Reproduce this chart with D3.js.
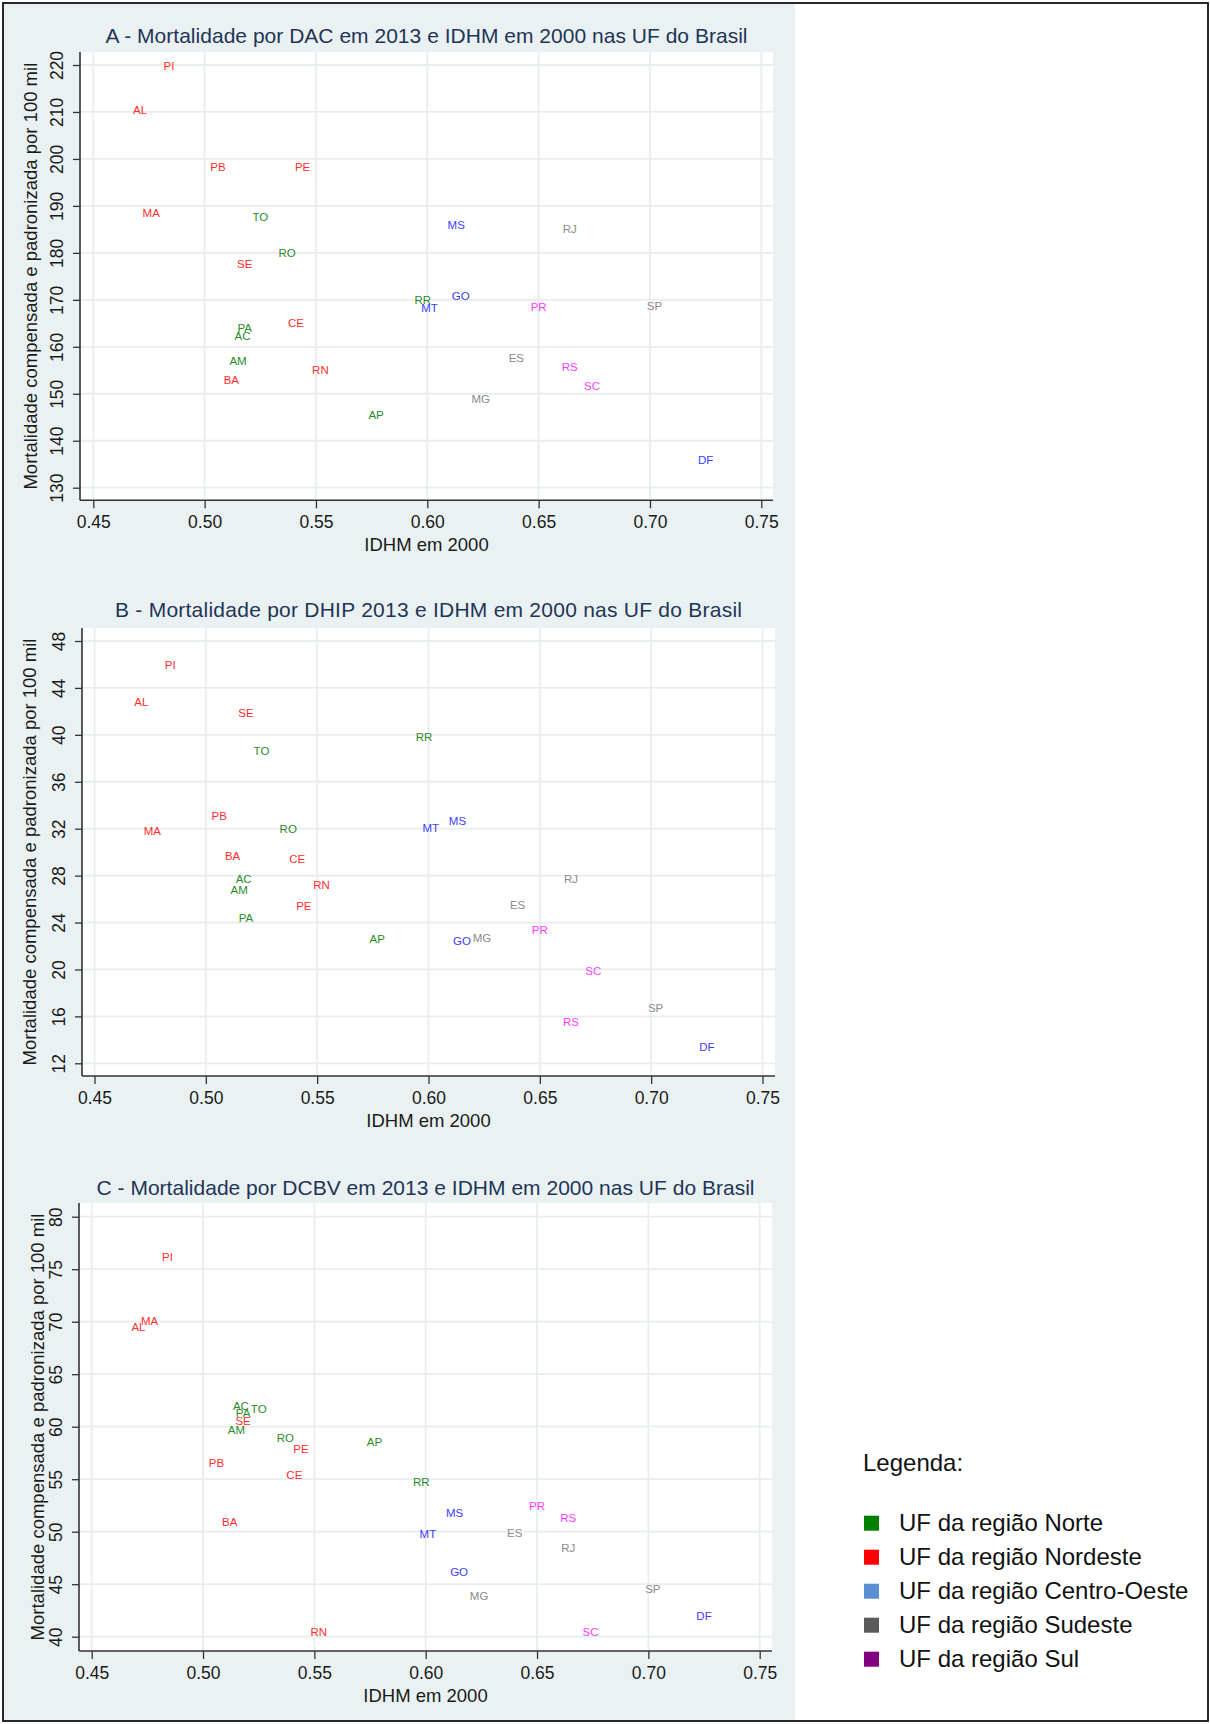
<!DOCTYPE html>
<html>
<head>
<meta charset="utf-8">
<script src="https://cdn.jsdelivr.net/npm/d3@7"></script>
<style>
  body { margin: 0; background: #fff; }
  text { font-family: "Liberation Sans", Arial, Helvetica, sans-serif; }
</style>
</head>
<body>
<div id="container"></div>
<script>
// UF do Brasil, com região (índice em regioes) e IDHM 2000
const uf       = ["AC","AL","AM","AP","BA","CE","DF","ES","GO","MA","MG","MS","MT","PA","PB","PE","PI","PR","RJ","RN","RO","RR","RS","SC","SE","SP","TO"];
const regiao   = [0, 1, 0, 0, 1, 1, 2, 3, 2, 1, 3, 2, 2, 0, 1, 1, 1, 4, 3, 1, 0, 0, 4, 4, 1, 3, 0];
const idhm2000 = [0.517,0.471,0.515,0.577,0.512,0.541,0.725,0.640,0.615,0.476,0.624,0.613,0.601,0.518,0.506,0.544,0.484,0.650,0.664,0.552,0.537,0.598,0.664,0.674,0.518,0.702,0.525];

// mortalidade compensada e padronizada por 100 mil (2013)
const dac2013  = [162.3,210.5,156.9,145.5,153.0,165.2,135.9,157.6,170.9,188.5,148.9,186.0,168.3,164.0,198.4,198.3,219.8,168.4,185.2,155.0,180.0,170.1,155.7,151.6,177.7,168.7,187.7];
const dhip2013 = [27.7,42.8,26.8,22.6,29.7,29.4,13.4,25.5,22.4,31.8,22.7,32.7,32.1,24.4,33.1,25.4,46.0,23.4,27.7,27.2,32.0,39.85,15.5,19.9,41.85,16.75,38.6];
const dcbv2013 = [62.0,69.5,59.7,58.55,50.9,55.4,42.0,49.9,46.2,70.1,43.9,51.8,49.8,61.3,56.6,57.9,76.2,52.5,48.5,40.5,58.9,54.7,51.3,40.5,60.6,44.6,61.7];

const regioes = ["Norte", "Nordeste", "Centro-Oeste", "Sudeste", "Sul"];
const xTicks    = [0.45, 0.50, 0.55, 0.60, 0.65, 0.70, 0.75];
const dacTicks  = [130, 140, 150, 160, 170, 180, 190, 200, 210, 220];
const dhipTicks = [12, 16, 20, 24, 28, 32, 36, 40, 44, 48];
const dcbvTicks = [40, 45, 50, 55, 60, 65, 70, 75, 80];
const titulos = [
  "A - Mortalidade por DAC em 2013 e IDHM em 2000 nas UF do Brasil",
  "B - Mortalidade por DHIP 2013 e IDHM em 2000 nas UF do Brasil",
  "C - Mortalidade por DCBV em 2013 e IDHM em 2000 nas UF do Brasil"
];

document.addEventListener("DOMContentLoaded", () => {

    const w = 1210; // canvas width
    const h = 1724; // canvas height

    const corTexto   = ["#2a8a2a", "#ff2e2e", "#3c3cff", "#8a8a8a", "#ff3cff"];
    const corLegenda = ["#008000", "#ff0000", "#5b8fd4", "#5a5a5a", "#800080"];

    const svg = d3.select("#container").append("svg").attr("width", w).attr("height", h);

    // fundo cinza dos gráficos e moldura
    svg.append("rect").attr("x", 4).attr("y", 4).attr("width", 791).attr("height", 1716).attr("fill", "#eaf1f2");
    svg.append("rect").attr("x", 3).attr("y", 3).attr("width", 1205).attr("height", 1718)
        .attr("fill", "none").attr("stroke", "#111").attr("stroke-width", 1.8);

    const paineis = [
        { valores: dac2013,  ticks: dacTicks,  titulo: titulos[0], tituloW: 642, left: 80, right: 773, top: 52,   bottom: 500.3, x0: 93.3, x1: 761.3, yTop: 65,     yBot: 487.7,  tituloY: 43,   yTituloX: 36.5 },
        { valores: dhip2013, ticks: dhipTicks, titulo: titulos[1], tituloW: 627, left: 82, right: 775, top: 628,  bottom: 1076,  x0: 94.5, x1: 762.5, yTop: 641,    yBot: 1063.3, tituloY: 617,  yTituloX: 36 },
        { valores: dcbv2013, ticks: dcbvTicks, titulo: titulos[2], tituloW: 658, left: 79, right: 772, top: 1203, bottom: 1651,  x0: 91.7, x1: 759.7, yTop: 1216.7, yBot: 1636.7, tituloY: 1195, yTituloX: 44 }
    ];

    paineis.forEach((p) => {
        const xScale = d3.scaleLinear().domain([0.45, 0.75]).range([p.x0, p.x1]);
        const yScale = d3.scaleLinear().domain([p.ticks[0], p.ticks[p.ticks.length - 1]]).range([p.yBot, p.yTop]);
        const g = svg.append("g");

        // área do gráfico
        g.append("rect").attr("x", p.left).attr("y", p.top).attr("width", p.right - p.left).attr("height", p.bottom - p.top).attr("fill", "#fff");

        // grade
        g.selectAll(".gx").data(xTicks).enter().append("line")
            .attr("x1", (d) => xScale(d)).attr("x2", (d) => xScale(d)).attr("y1", p.top).attr("y2", p.bottom)
            .attr("stroke", "#e8eef0").attr("stroke-width", 1.8);
        g.selectAll(".gy").data(p.ticks).enter().append("line")
            .attr("x1", p.left).attr("x2", p.right).attr("y1", (d) => yScale(d)).attr("y2", (d) => yScale(d))
            .attr("stroke", "#e8eef0").attr("stroke-width", 1.8);

        // eixos
        const yAxis = d3.axisLeft(yScale).tickValues(p.ticks).tickSize(7).tickFormat(d3.format("d"));
        const ga = g.append("g").attr("transform", `translate(${p.left}, 0)`).call(yAxis);
        ga.select(".domain").remove();
        ga.selectAll("line").attr("stroke", "#333").attr("stroke-width", 1.3);
        ga.selectAll("text").attr("transform", "rotate(-90)").attr("x", 0).attr("y", -17).attr("dy", 0)
            .attr("text-anchor", "middle").attr("font-size", 17.5).attr("fill", "#1a1a1a")
            .style("font-family", "'Liberation Sans', Arial, sans-serif");

        const xAxis = d3.axisBottom(xScale).tickValues(xTicks).tickSize(8).tickFormat(d3.format(".2f"));
        const gb = g.append("g").attr("transform", `translate(0, ${p.bottom})`).call(xAxis);
        gb.select(".domain").remove();
        gb.selectAll("line").attr("stroke", "#333").attr("stroke-width", 1.3);
        gb.selectAll("text").attr("y", 27.5).attr("dy", 0).attr("font-size", 17.5).attr("fill", "#1a1a1a")
            .style("font-family", "'Liberation Sans', Arial, sans-serif");

        g.append("line").attr("x1", p.left).attr("x2", p.left).attr("y1", p.top).attr("y2", p.bottom).attr("stroke", "#333").attr("stroke-width", 1.6);
        g.append("line").attr("x1", p.left).attr("x2", p.right).attr("y1", p.bottom).attr("y2", p.bottom).attr("stroke", "#333").attr("stroke-width", 1.6);

        // rótulos das UF
        g.selectAll(".uf").data(uf).enter().append("text")
            .attr("x", (d, i) => xScale(idhm2000[i]))
            .attr("y", (d, i) => yScale(p.valores[i]))
            .attr("dy", "0.36em").attr("text-anchor", "middle").attr("font-size", 11.5)
            .attr("fill", (d, i) => corTexto[regiao[i]])
            .text((d) => d);

        // títulos
        g.append("text").attr("x", (p.left + p.right) / 2).attr("y", p.tituloY).attr("text-anchor", "middle")
            .attr("font-size", 21).attr("textLength", p.tituloW).attr("lengthAdjust", "spacing")
            .attr("fill", "#1f3556").text(p.titulo);
        g.append("text").attr("x", (p.left + p.right) / 2).attr("y", p.bottom + 50.5).attr("text-anchor", "middle")
            .attr("font-size", 18.5).attr("fill", "#1a1a1a").text("IDHM em 2000");
        g.append("text").attr("transform", `translate(${p.yTituloX}, ${(p.top + p.bottom) / 2}) rotate(-90)`)
            .attr("text-anchor", "middle").attr("font-size", 18.5).attr("fill", "#1a1a1a")
            .text("Mortalidade compensada e padronizada por 100 mil");
    });

    // legenda
    const leg = svg.append("g");
    leg.append("text").attr("x", 863).attr("y", 1470.7).attr("font-size", 24).attr("fill", "#111").text("Legenda:");
    const item = leg.selectAll(".item").data(regioes).enter().append("g")
        .attr("transform", (d, i) => `translate(864, ${1530.7 + i * 34})`);
    item.append("rect").attr("x", 0).attr("y", -15).attr("width", 15).attr("height", 15).attr("fill", (d, i) => corLegenda[i]);
    item.append("text").attr("x", 35).attr("y", 0).attr("font-size", 24).attr("fill", "#111").text((d) => `UF da região ${d}`);
});
</script>
</body>
</html>
